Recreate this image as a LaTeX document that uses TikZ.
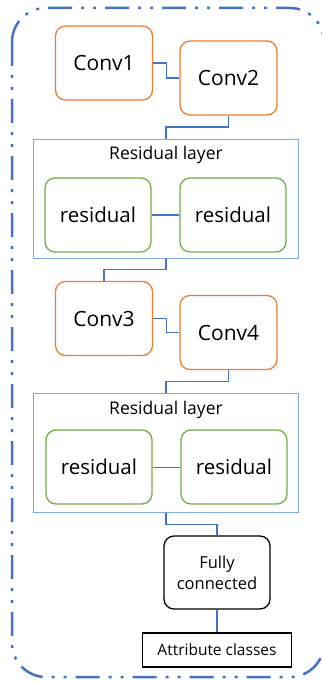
\documentclass[tikz,border=0pt]{standalone}
\usepackage{fontspec}
\setmainfont{Open Sans}
\usetikzlibrary{calc}
\definecolor{convorange}{HTML}{ED7D31}
\definecolor{resgreen}{HTML}{70AD47}
\definecolor{frameblue}{HTML}{4472C4}
\definecolor{layerblue}{HTML}{7EA9DC}

\begin{document}
\begin{tikzpicture}[x=1pt,y=-1pt,
  conv/.style={draw=convorange,line width=1.3pt,rounded corners=10pt,minimum width=97pt,minimum height=74pt,font=\fontsize{21}{25}\selectfont},
  res/.style={draw=resgreen,line width=1.3pt,rounded corners=10pt,minimum width=106pt,minimum height=74pt,font=\fontsize{20.5}{24}\selectfont},
  layer/.style={draw=layerblue,line width=1pt,minimum width=265pt,minimum height=119pt},
  link/.style={draw=frameblue,line width=1.2pt}]
  \useasboundingbox (0,0) rectangle (321,682);
  % outer frame
  \draw[frameblue,line width=2.5pt,rounded corners=34pt,dash pattern=on 24pt off 9pt on 3pt off 9pt on 3pt off 9pt] (12,8) rectangle (324,677);
  % first block
  \node[conv] (c1) at (104,63) {Conv1};
  \node[conv] (c2) at (228.5,78) {Conv2};
  \node[layer] (l1) at (166,198.5) {};
  \node[font=\fontsize{17.5}{21}\selectfont] (t1) at (166,155) {Residual layer};
  \node[res] (r1) at (98,215) {residual};
  \node[res] (r2) at (233,215) {residual};
  % second block
  \node[conv] (c3) at (104,318.5) {Conv3};
  \node[conv] (c4) at (228.5,332.5) {Conv4};
  \node[layer] (l2) at (166,453) {};
  \node[font=\fontsize{17.5}{21}\selectfont] (t2) at (166,410) {Residual layer};
  \node[res] (r3) at (99,467) {residual};
  \node[res] (r4) at (234,467) {residual};
  % head
  \node[draw,line width=1.3pt,rounded corners=10pt,minimum width=106pt,minimum height=73pt,align=center,font=\fontsize{16.5}{21}\selectfont] (fc) at (217,572.5) {Fully\\connected};
  \node[draw,line width=1.2pt,minimum width=149pt,minimum height=34pt,font=\fontsize{15.5}{18}\selectfont] (out) at (217,650) {Attribute classes};
  % connections
  \draw[link] (c1.east) -| ($(c1.east)!.5!(c2.west)$) |- (c2.west);
  \draw[link] (c2.south) |- ($(c2.south)!.5!(l1.north)$) -| (l1.north);
  \draw[link] (r1) -- (r2);
  \draw[link] (l1.south) |- ($(l1.south)!.5!(c3.north)$) -| (c3.north);
  \draw[link] (c3.east) -| ($(c3.east)!.5!(c4.west)$) |- (c4.west);
  \draw[link] (c4.south) |- ($(c4.south)!.5!(l2.north)$) -| (l2.north);
  \draw[link,line width=0.8pt] (r3) -- (r4);
  \draw[link] (l2.south) |- ($(l2.south)!.5!(fc.north)$) -| (fc.north);
  \draw[link] (fc) -- (out);
\end{tikzpicture}
\end{document}
